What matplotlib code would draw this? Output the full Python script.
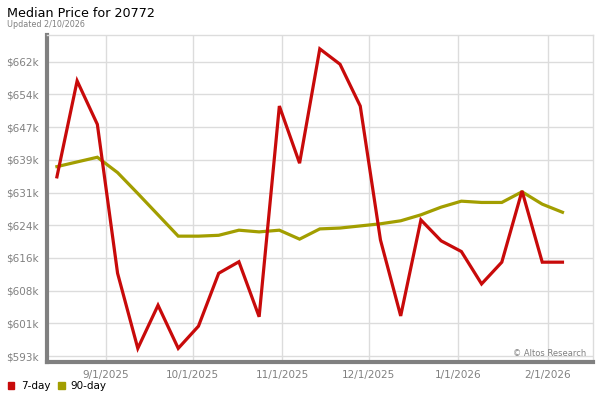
import matplotlib
matplotlib.use("Agg")
import matplotlib.pyplot as plt
import matplotlib.dates as mdates
import numpy as np
import pandas as pd
from matplotlib.ticker import FixedLocator, FuncFormatter
from matplotlib.patches import Rectangle

dates = [
    "2025-08-15", "2025-08-22", "2025-08-29", "2025-09-05", "2025-09-12",
    "2025-09-19", "2025-09-26", "2025-10-03", "2025-10-10", "2025-10-17",
    "2025-10-24", "2025-10-31", "2025-11-07", "2025-11-14", "2025-11-21",
    "2025-11-28", "2025-12-05", "2025-12-12", "2025-12-19", "2025-12-26",
    "2026-01-02", "2026-01-09", "2026-01-16", "2026-01-23", "2026-01-30",
    "2026-02-06",
]
price_7day = [
    635.0, 657.5, 647.3, 612.4, 594.8, 604.9, 594.8, 600.0, 612.4, 615.1,
    602.2, 651.6, 638.2, 665.0, 661.4, 651.6, 620.2, 602.4, 624.9, 620.0,
    617.5, 609.9, 615.0, 631.7, 615.0, 615.0,
]
price_90day = [
    637.4, 638.5, 639.6, 636.0, 631.1, 626.1, 621.1, 621.1, 621.3, 622.5,
    622.1, 622.5, 620.4, 622.8, 623.0, 623.5, 624.0, 624.7, 626.1, 627.9,
    629.3, 629.0, 629.0, 631.5, 628.6, 626.7,
]
y_ticks = [593.0, 600.67, 608.33, 616.0, 623.67, 631.33, 639.0, 646.67, 654.33, 662.0]
x_ticks = ["2025-09-01", "2025-10-01", "2025-11-01", "2025-12-01", "2026-01-01", "2026-02-01"]

RED = "#c80a0a"
OLIVE = "#a29e00"
GREY = "#808080"

x = pd.to_datetime(dates)
fig = plt.figure(figsize=(6, 4), dpi=100)
ax = fig.add_axes([0.078, 0.095, 0.910, 0.818])

ax.plot(x, price_90day, color=OLIVE, lw=2.3, solid_joinstyle="miter", zorder=3)
ax.plot(x, price_7day, color=RED, lw=2.3, solid_joinstyle="miter", zorder=4)

ax.set_ylim(591.6, 668.3)
ax.set_xlim(pd.Timestamp("2025-08-11 12:00"), pd.Timestamp("2026-02-16 12:00"))
ax.yaxis.set_major_locator(FixedLocator(y_ticks))
ax.yaxis.set_major_formatter(FuncFormatter(lambda v, p: f"${v:.0f}k"))
ax.set_xticks(pd.to_datetime(x_ticks))
ax.xaxis.set_major_formatter(FuncFormatter(
    lambda v, p: f"{mdates.num2date(v).month}/{mdates.num2date(v).day}/{mdates.num2date(v).year}"))

ax.grid(True, color="#dcdcdc", lw=1.0, zorder=0)
ax.tick_params(length=0, colors=GREY, labelsize=7.5, pad=6)
for side in ("top", "right"):
    ax.spines[side].set_color("#dcdcdc")
    ax.spines[side].set_linewidth(1.0)
for side in ("left", "bottom"):
    ax.spines[side].set_color(GREY)
    ax.spines[side].set_linewidth(3.0)

ax.text(0.9875, 0.012, "\u00a9 Altos Research", transform=ax.transAxes,
        ha="right", va="bottom", fontsize=6.0, color=GREY)

fig.text(0.012, 0.967, "Median Price for 20772", fontsize=9.2, color="black", va="center")
fig.text(0.012, 0.938, "Updated 2/10/2026", fontsize=5.8, color=GREY, va="center")

# legend
fig.patches.append(Rectangle((0.013, 0.028), 0.011, 0.016, transform=fig.transFigure,
                             color=RED, figure=fig))
fig.text(0.035, 0.035, "7-day", fontsize=7.5, va="center")
fig.patches.append(Rectangle((0.097, 0.028), 0.011, 0.016, transform=fig.transFigure,
                             color=OLIVE, figure=fig))
fig.text(0.118, 0.035, "90-day", fontsize=7.5, va="center")

fig.savefig("out.png", dpi=100)
